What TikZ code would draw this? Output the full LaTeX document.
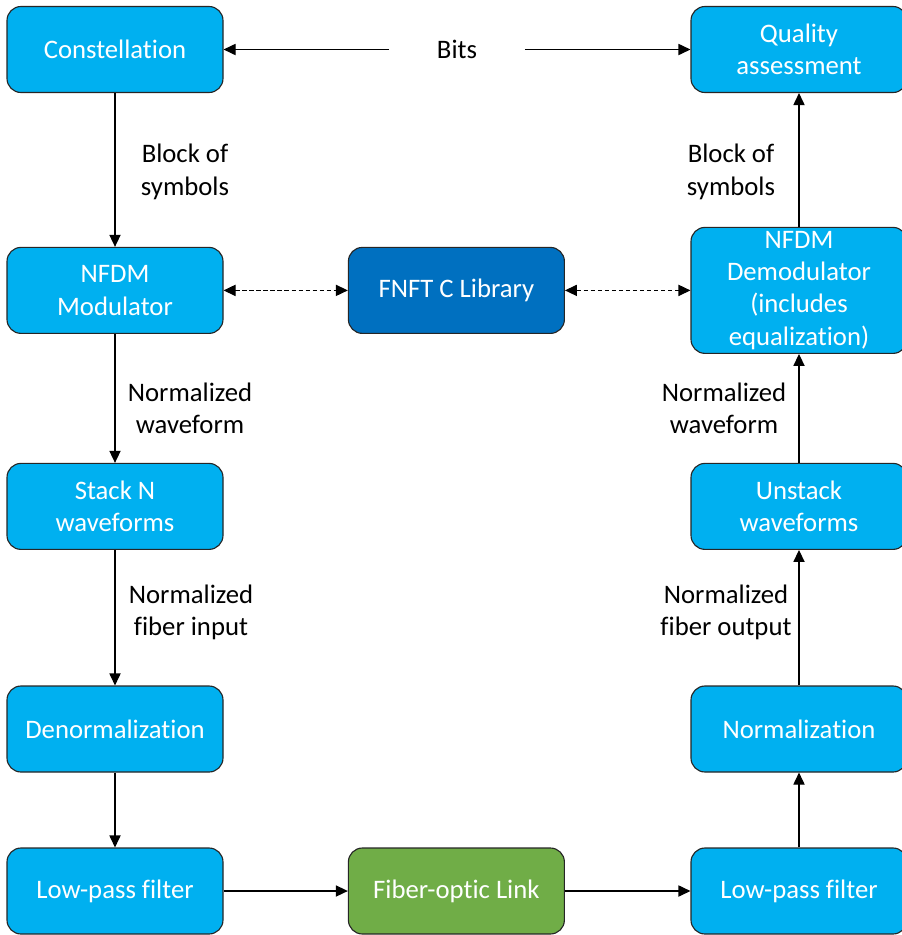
\documentclass[tikz,border=0pt]{standalone}
\usepackage{fontspec}
\setmainfont{Carlito}[Ligatures={NoCommon,NoRequired,NoContextual}, Contextuals={NoAlternate}]
\usetikzlibrary{arrows.meta, positioning}

\definecolor{boxblue}{HTML}{00B0F0}
\definecolor{libblue}{HTML}{0070C0}
\definecolor{linkgreen}{HTML}{70AD47}

\begin{document}
\begin{tikzpicture}[
        blk/.style={rectangle, draw=black!85, line width=0.8pt, fill=boxblue, text=white, minimum width=5.4cm, minimum height=2.15cm, inner sep=1pt, align=center, rounded corners=0.35cm, font=\fontsize{19}{23}\selectfont},
        lib/.style={blk, fill=libblue},
        link/.style={blk, fill=linkgreen},
        arr/.style={-{Triangle[length=0.3cm, width=0.28cm]}, line width=0.8pt},
        dbl/.style={{Triangle[length=0.3cm, width=0.28cm]}-{Triangle[length=0.3cm, width=0.28cm]}, line width=0.8pt, dash pattern=on 3pt off 2pt},
        lbltxt/.style={font=\fontsize{19}{23}\selectfont, align=center, inner sep=0pt}
    ]
        \useasboundingbox (0,0) rectangle (22.55,-23.375);
        \node[blk] (const) at (2.875,-1.2375) {Constellation};
        \node[blk] (qual) at (19.975,-1.2375) {Quality\\assessment};
        \node[lbltxt, minimum width=3.375cm] (bits) at (11.425,-1.2375) {Bits};
        \node[blk] (mod) at (2.875,-7.26) {NFDM\\Modulator};
        \node[lib] (fnft) at (11.41,-7.26) {FNFT C Library};
        \node[blk, minimum height=3.15cm] (demod) at (19.975,-7.26) {NFDM\\Demodulator\\(includes\\equalization)};
        \node[blk] (stack) at (2.875,-12.66) {Stack N\\waveforms};
        \node[blk] (unstack) at (19.975,-12.66) {Unstack\\waveforms};
        \node[blk] (denorm) at (2.875,-18.225) {Denormalization};
        \node[blk] (norm) at (19.975,-18.225) {Normalization};
        \node[blk] (lpfin) at (2.875,-22.275) {Low-pass filter};
        \node[link] (fiber) at (11.41,-22.275) {Fiber-optic Link};
        \node[blk] (lpfout) at (19.975,-22.275) {Low-pass filter};
        \draw[arr] (bits) -- (const);
        \draw[arr] (bits) -- (qual);
        \draw[arr] (const) -- (mod) node[midway, xshift=1.75cm, yshift=-0.05cm, lbltxt] {Block of\\symbols};
        \draw[arr] (mod) -- (stack) node[midway, xshift=1.875cm, yshift=-0.24cm, lbltxt] {Normalized\\waveform};
        \draw[arr] (stack) -- (denorm) node[midway, xshift=1.9cm, yshift=0.14cm, lbltxt] {Normalized\\fiber input};
        \draw[arr] (denorm) -- (lpfin);
        \draw[arr] (lpfin) -- (fiber);
        \draw[arr] (fiber) -- (lpfout);
        \draw[arr] (lpfout) -- (norm);
        \draw[arr] (norm) -- (unstack) node[midway, xshift=-1.825cm, yshift=0.14cm, lbltxt] {Normalized\\fiber output};
        \draw[arr] (unstack) -- (demod) node[midway, xshift=-1.875cm, lbltxt] {Normalized\\waveform};
        \draw[arr] (demod) -- (qual) node[midway, xshift=-1.7cm, yshift=-0.3cm, lbltxt] {Block of\\symbols};
        \draw[dbl] (mod) -- (fnft);
        \draw[dbl] (fnft) -- (demod);
    \end{tikzpicture}
\end{document}
